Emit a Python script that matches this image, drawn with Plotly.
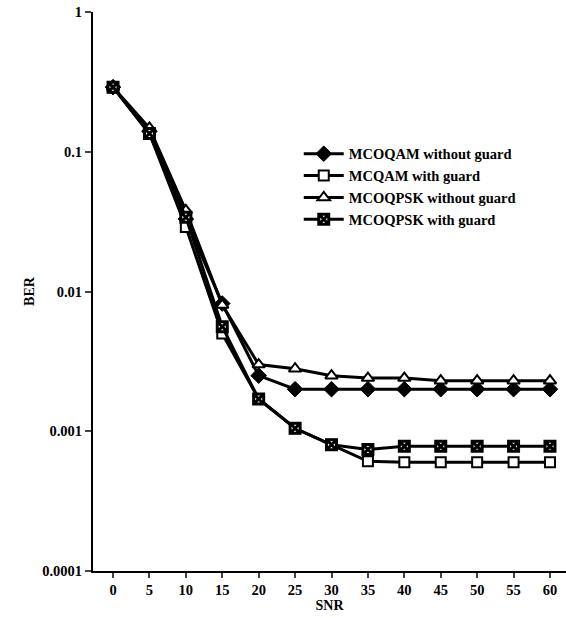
import plotly.graph_objects as go

snr = [0, 5, 10, 15, 20, 25, 30, 35, 40, 45, 50, 55, 60]
mcoqam_no_guard = [0.29, 0.14, 0.033, 0.0082, 0.0025, 0.0020, 0.0020, 0.0020, 0.0020, 0.0020, 0.0020, 0.0020, 0.0020]
mcqam_guard = [0.29, 0.135, 0.029, 0.0050, 0.0017, 0.00105, 0.0008, 0.00061, 0.0006, 0.0006, 0.0006, 0.0006, 0.0006]
mcoqpsk_no_guard = [0.29, 0.148, 0.038, 0.0080, 0.0030, 0.0028, 0.0025, 0.0024, 0.0024, 0.0023, 0.0023, 0.0023, 0.0023]
mcoqpsk_guard = [0.29, 0.135, 0.034, 0.0056, 0.0017, 0.00105, 0.0008, 0.00074, 0.00078, 0.00078, 0.00078, 0.00078, 0.00078]

names = ["MCOQAM without guard", "MCQAM with guard", "MCOQPSK without guard", "MCOQPSK with guard"]
series = [mcoqam_no_guard, mcqam_guard, mcoqpsk_no_guard, mcoqpsk_guard]
markers = [
    dict(symbol="diamond", size=12, color="black", line=dict(color="black", width=1)),
    dict(symbol="square", size=10, color="white", line=dict(color="black", width=2)),
    dict(symbol="triangle-up", size=11, color="white", line=dict(color="black", width=2)),
    dict(symbol="square-x", size=10, color="white", line=dict(color="black", width=3)),
]

fig = go.Figure()
for n, s, m in zip(names, series, markers):
    fig.add_trace(go.Scatter(x=snr, y=s, name=n, mode="lines+markers",
                             line=dict(color="black", width=3), marker=m))

serif = "Liberation Serif, Times New Roman, serif"
fig.update_layout(
    width=566, height=618,
    margin=dict(l=93, r=0, t=12, b=47),
    paper_bgcolor="white", plot_bgcolor="white",
    font=dict(family=serif, size=13, color="black"),
    showlegend=True,
    legend=dict(x=0.435, y=0.775, xanchor="left", yanchor="top",
                font=dict(family=serif, size=14.5, color="black", weight="bold"),
                bgcolor="rgba(0,0,0,0)", tracegroupgap=0, itemwidth=40),
)
fig.update_xaxes(range=[-2.75, 62.2], tickvals=snr, ticks="outside", ticklen=5, tickwidth=2,
                 showline=True, linecolor="black", linewidth=2, showgrid=False, zeroline=False,
                 automargin=False,
                 title=dict(text="SNR", standoff=2, font=dict(size=14, weight="bold")),
                 tickfont=dict(size=14.5, weight="bold"))
fig.update_yaxes(type="log", range=[-4, 0], tickvals=[0.0001, 0.001, 0.01, 0.1, 1],
                 ticktext=["0.0001", "0.001", "0.01", "0.1", "1"],
                 ticks="outside", ticklen=6, tickwidth=2, ticklabeloverflow="allow",
                 showline=True, linecolor="black", linewidth=2, showgrid=False, zeroline=False,
                 automargin=False,
                 title=dict(text="BER", standoff=4, font=dict(size=14, weight="bold")),
                 tickfont=dict(size=14.5, weight="bold"))
fig.write_html("out.html", config={"displayModeBar": False},
               post_script="document.body.style.margin='0';document.body.style.overflow='hidden';")
